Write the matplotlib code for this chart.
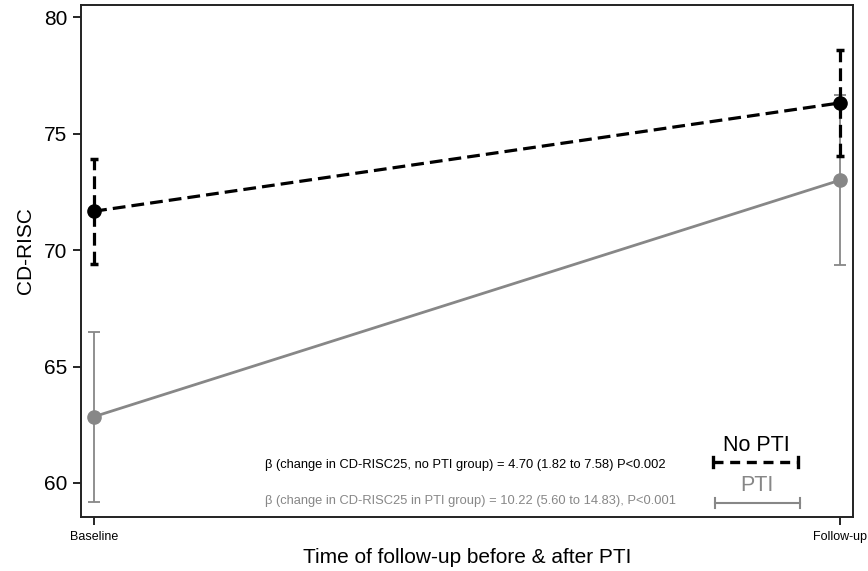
import matplotlib
matplotlib.use("Agg")
import matplotlib.pyplot as plt

plt.rcParams["font.family"] = ["Liberation Sans", "DejaVu Sans"]

times = [0, 1]
time_labels = ["Baseline", "Follow-up"]

no_pti_mean = [71.67, 76.32]
no_pti_lo = [69.4, 74.05]
no_pti_hi = [73.9, 78.6]

pti_mean = [62.85, 73.0]
pti_lo = [59.2, 69.35]
pti_hi = [66.5, 76.65]

note_no_pti = "β (change in CD-RISC25, no PTI group) = 4.70 (1.82 to 7.58) P<0.002"
note_pti = "β (change in CD-RISC25 in PTI group) = 10.22 (5.60 to 14.83), P<0.001"

grey = "#878787"
dash = (0, (4, 1.9))

fig = plt.figure(figsize=(8.68, 5.71), dpi=100)
ax = fig.add_axes([0.093, 0.095, 0.890, 0.896])

# PTI group (grey, solid)
ax.errorbar(times, pti_mean,
            yerr=[[m - l for m, l in zip(pti_mean, pti_lo)],
                  [h - m for m, h in zip(pti_mean, pti_hi)]],
            fmt="none", ecolor=grey, elinewidth=1.3, capsize=4.5, capthick=1.3, zorder=2)
ax.plot(times, pti_mean, color=grey, lw=2, marker="o", ms=9.5, zorder=3)

# No PTI group (black, dashed)
eb = ax.errorbar(times, no_pti_mean,
                 yerr=[[m - l for m, l in zip(no_pti_mean, no_pti_lo)],
                       [h - m for m, h in zip(no_pti_mean, no_pti_hi)]],
                 fmt="none", ecolor="black", elinewidth=2.3, capsize=3, capthick=2.5, zorder=4)
eb[2][0].set_linestyle(dash)
ax.plot(times, no_pti_mean, color="black", lw=2.3, ls=dash, marker="o", ms=9.5, zorder=5)

ax.set_xlim(-0.018, 1.018)
ax.set_ylim(58.55, 80.52)
ax.set_yticks([60, 65, 70, 75, 80])
ax.set_xticks(times)
ax.set_xticklabels(time_labels, fontsize=9)
ax.tick_params(axis="y", labelsize=15, length=6, width=1.2)
ax.tick_params(axis="x", length=6, width=1.2, pad=4)
for s in ax.spines.values():
    s.set_linewidth(1.4)
    s.set_color("#222222")

ax.set_ylabel("CD-RISC", fontsize=15)
ax.yaxis.set_label_coords(-0.059, 0.52)
ax.set_xlabel("Time of follow-up before & after PTI", fontsize=15, labelpad=4)

# annotations
ax.text(0.2386, 0.101, note_no_pti, transform=ax.transAxes, fontsize=9.3,
        color="black", va="center")
ax.text(0.2386, 0.031, note_pti, transform=ax.transAxes, fontsize=9.3,
        color=grey, va="center")

# legend keys
tr = ax.transAxes
ax.text(0.875, 0.14, "No PTI", transform=tr, fontsize=15.5, ha="center", va="center")
ax.plot([0.818, 0.929], [0.107, 0.107], transform=tr, color="black", lw=2.4,
        ls=(0, (3, 2)), solid_capstyle="butt")
for xx in (0.818, 0.929):
    ax.plot([xx, xx], [0.097, 0.117], transform=tr, color="black", lw=2.4)
ax.text(0.875, 0.061, "PTI", transform=tr, fontsize=15.5, ha="center", va="center", color=grey)
ax.plot([0.821, 0.931], [0.027, 0.027], transform=tr, color=grey, lw=1.5)
for xx in (0.821, 0.931):
    ax.plot([xx, xx], [0.017, 0.037], transform=tr, color=grey, lw=1.5)

fig.savefig("out.png", dpi=100)
